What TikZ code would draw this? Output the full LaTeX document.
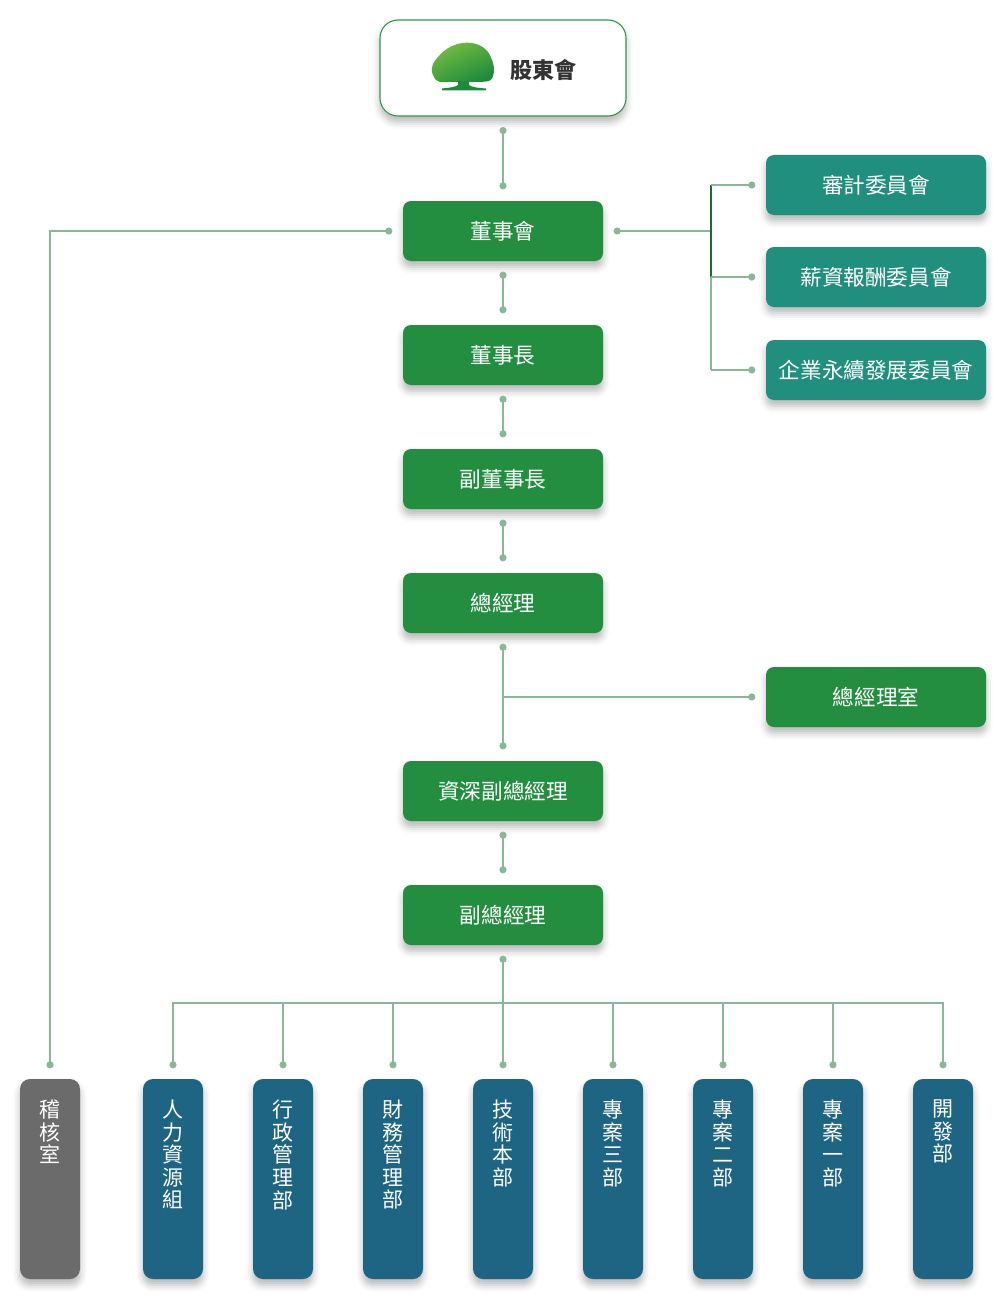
\documentclass[tikz,border=0pt]{standalone}
\usepackage{fontspec}
\setmainfont{Noto Sans CJK TC}
\usetikzlibrary{shadows.blur,calc}
\definecolor{boxgreen}{HTML}{238E40}
\definecolor{boxteal}{HTML}{218F7E}
\definecolor{boxblue}{HTML}{1E6583}
\definecolor{boxgray}{HTML}{6B6B6B}
\definecolor{linec}{HTML}{8AB79A}
\definecolor{darkline}{HTML}{1B6B33}
\definecolor{topborder}{HTML}{2E9A45}
\definecolor{treedark}{HTML}{1F8A3C}
\definecolor{treelight}{HTML}{74BE40}
\definecolor{txtdark}{HTML}{333333}
\newcommand\dotat[1]{\fill[linec] (#1) circle (3.6pt);}
\begin{document}
\begin{tikzpicture}[x=1pt,y=-1pt,
  shad/.style={blur shadow={shadow xshift=0pt,shadow yshift=-6pt,shadow blur radius=7pt,shadow opacity=28}},
  box/.style={shad,rounded corners=8pt,minimum width=200pt,minimum height=60pt,inner sep=0pt,text=white,font=\fontsize{21.6}{24}\selectfont},
  greenbox/.style={box,fill=boxgreen},
  commbox/.style={box,fill=boxteal,minimum width=220pt},
  deptbox/.style={shad,rounded corners=10pt,minimum width=60pt,minimum height=200pt,inner sep=0pt,fill=boxblue},
  depttext/.style={anchor=north,inner sep=0pt,text=white,align=center,font=\fontsize{21}{22.6}\selectfont},
  topbox/.style={shad,rounded corners=18pt,minimum width=246pt,minimum height=96pt,inner sep=0pt,fill=white,draw=topborder,line width=1.1pt},
  link/.style={draw=linec,line width=2pt},
  darklink/.style={draw=darkline,line width=2pt}
]
\useasboundingbox (0,0) rectangle (1007,1308);

% nodes
\node[topbox] (sh) at (503,68) {};
\node[anchor=west,inner sep=0pt,text=txtdark,font=\fontsize{22}{24}\selectfont\bfseries] (shtext) at (510,70) {股東會};
% tree logo
\shade[top color=treelight,bottom color=treedark,shading angle=25]
  plot[smooth cycle,tension=0.6] coordinates {(436,80) (432,72) (433,64) (438,57) (444,51) (452,46) (462,43) (472,43) (481,46) (488,52) (492,60) (494,68) (493,76) (489,81) (475,82) (462,82) (448,82) (440,82)};
\fill[treedark] (458,81) -- (458,85) .. controls (456,87) and (448,88) .. (442,88.5) -- (442,90.5) -- (486,90.5) -- (486,88.5) .. controls (478,88) and (471,87) .. (469,85) -- (469,81) -- cycle;

\node[greenbox] (board) at (503,231) {董事會};
\node[greenbox] (chair) at (503,355) {董事長};
\node[greenbox] (vchair) at (503,479) {副董事長};
\node[greenbox] (gm) at (503,603) {總經理};
\node[greenbox] (svp) at (503,791) {資深副總經理};
\node[greenbox] (vp) at (503,915) {副總經理};
\node[commbox] (audit) at (876,185) {審計委員會};
\node[commbox] (comp) at (876,277) {薪資報酬委員會};
\node[commbox] (esg) at (876,370) {企業永續發展委員會};
\node[greenbox,minimum width=220pt] (gmo) at (876,697) {總經理室};

\node[deptbox,fill=boxgray] (d0) at (50,1179) {};
\node[depttext] at ($(d0.north)+(0,21)$) {稽\\核\\室};
\foreach \i/\t in {1/人\\力\\資\\源\\組, 2/行\\政\\管\\理\\部, 3/財\\務\\管\\理\\部, 4/技\\術\\本\\部, 5/專\\案\\三\\部, 6/專\\案\\二\\部, 7/專\\案\\一\\部, 8/開\\發\\部}{
  \node[deptbox] (d\i) at (63+110*\i,1179) {};
  \node[depttext] at ($(d\i.north)+(0,21)$) {\t};
}

% connector points
\foreach \n in {sh,board,chair,vchair,gm,svp,vp}{
  \coordinate (\n-b) at ($(\n.south)+(0,14)$);
  \coordinate (\n-t) at ($(\n.north)+(0,-15)$);
}
\coordinate (board-l) at ($(board.west)+(-14,0)$);
\coordinate (board-r) at ($(board.east)+(14,0)$);
\foreach \n in {audit,comp,esg,gmo}{
  \coordinate (\n-l) at ($(\n.west)+(-14,0)$);
}
\foreach \i in {0,...,8}{
  \coordinate (d\i-t) at ($(d\i.north)+(0,-14)$);
}
\coordinate (br) at (711,231);
\coordinate (bus) at (503,1003);

% connectors
\draw[link] (sh-b) -- (board-t);
\draw[link] (board-b) -- (chair-t);
\draw[link] (chair-b) -- (vchair-t);
\draw[link] (vchair-b) -- (gm-t);
\draw[link] (gm-b) -- (svp-t);
\draw[link] (svp-b) -- (vp-t);
\draw[link] (board-l) -| (d0-t);
\draw[link] (board-r) -- (br);
\draw[link] (br |- comp-l) -- (br |- esg-l);
\draw[darklink] (br |- audit-l) -- (br |- comp-l);
\draw[link] (br |- audit-l) -- (audit-l);
\draw[link] (br |- comp-l) -- (comp-l);
\draw[link] (br |- esg-l) -- (esg-l);
\draw[link] (gm-b |- gmo-l) -- (gmo-l);
\draw[link] (vp-b) -- (bus);
\foreach \i in {1,...,8}{
  \draw[link] (bus) -| (d\i-t);
}

% dots
\foreach \c in {sh-b,board-t,board-b,chair-t,chair-b,vchair-t,vchair-b,gm-t,gm-b,svp-t,svp-b,vp-t,vp-b,board-l,board-r,audit-l,comp-l,esg-l,gmo-l,d0-t,d1-t,d2-t,d3-t,d4-t,d5-t,d6-t,d7-t,d8-t}{
  \dotat{\c}
}
\end{tikzpicture}
\end{document}
